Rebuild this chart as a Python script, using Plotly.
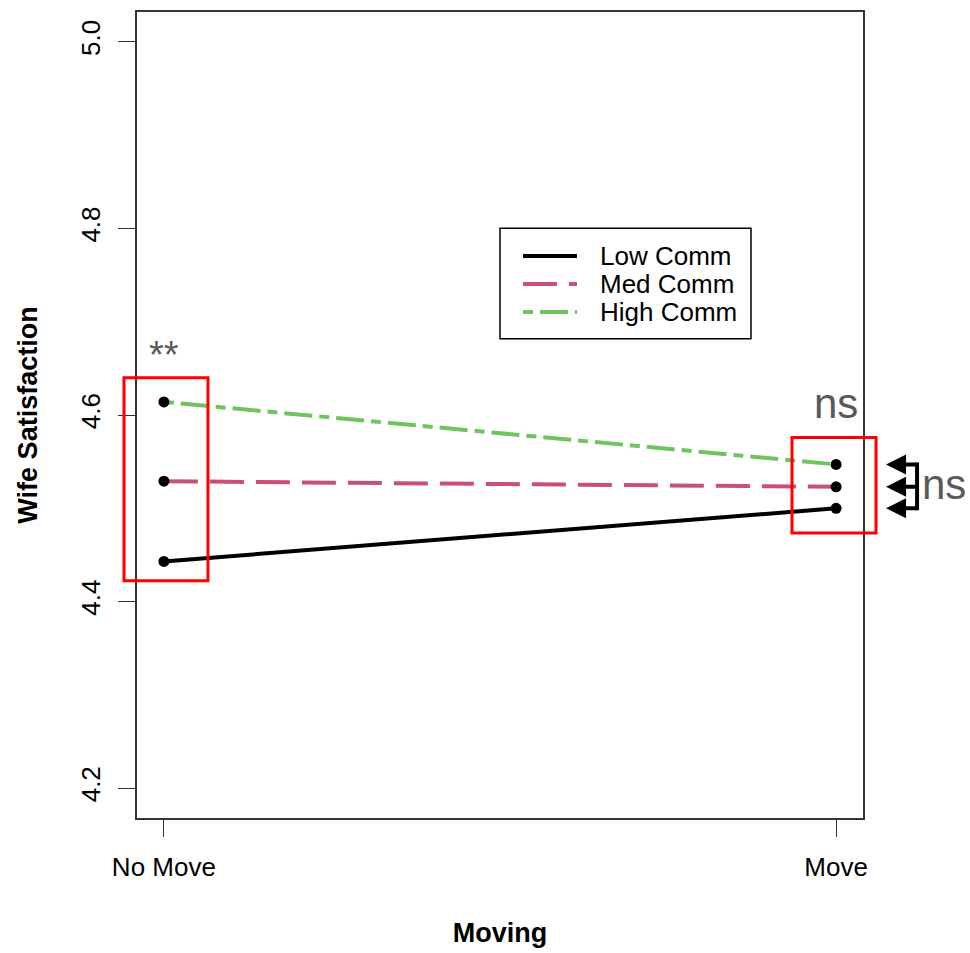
import plotly.graph_objects as go

# Interaction of moving status and communication level on wife satisfaction
moving = ["No Move", "Move"]
x_pos = [1, 2]
series_names = ["Low Comm", "Med Comm", "High Comm"]
low_comm = [4.443, 4.500]
med_comm = [4.529, 4.523]
high_comm = [4.614, 4.547]
y_ticks = [4.2, 4.4, 4.6, 4.8, 5.0]

series_values = [low_comm, med_comm, high_comm]
colors = ["#000000", "#C94F78", "#70C45E"]
dashes = ["solid", "34px,12px", "10px,7px,28px,7px"]

XR = [0.96, 2.04]
YR = [4.168, 5.032]
FONT = "Liberation Sans, Arial, sans-serif"


def xp(v):
    return (v - XR[0]) / (XR[1] - XR[0])


def yp(v):
    return (v - YR[0]) / (YR[1] - YR[0])


fig = go.Figure()
for name, vals, col, dash in zip(series_names, series_values, colors, dashes):
    fig.add_trace(go.Scatter(
        x=x_pos, y=vals, name=name, mode="lines+markers",
        line=dict(color=col, width=4, dash=dash),
        marker=dict(color="black", size=11),
        showlegend=False, cliponaxis=False,
    ))

shapes = []
# red highlight boxes around each group of means
for (x0, x1, y0, y1) in [(0.9407, 1.0656, 4.4222, 4.640),
                         (1.9344, 2.0594, 4.4734, 4.576)]:
    shapes.append(dict(type="rect", xref="paper", yref="paper",
                       x0=xp(x0), x1=xp(x1), y0=yp(y0), y1=yp(y1),
                       line=dict(color="#FF0000", width=3)))

# bracket joining the comparison arrows
move_vals = [v[1] for v in series_values]
shapes.append(dict(type="line", xref="paper", yref="paper",
                   x0=xp(2.1204), x1=xp(2.1204),
                   y0=yp(min(move_vals)) - 0.0025, y1=yp(max(move_vals)) + 0.0025,
                   line=dict(color="black", width=4)))

# legend box
lg_x0, lg_x1, lg_y0, lg_y1 = 0.5, 0.8457, 0.5946, 0.7318
shapes.append(dict(type="rect", xref="paper", yref="paper",
                   x0=lg_x0, x1=lg_x1, y0=lg_y0, y1=lg_y1,
                   line=dict(color="black", width=1.5)))
annotations = []
row_y = [0.6972, 0.6625, 0.6279]
for name, col, dash, ry in zip(series_names, colors, dashes, row_y):
    shapes.append(dict(type="line", xref="paper", yref="paper",
                       x0=0.5317, x1=0.6061, y0=ry, y1=ry,
                       line=dict(color=col, width=4, dash=dash)))
    annotations.append(dict(xref="paper", yref="paper", x=0.635, y=ry,
                            text=name, showarrow=False, xanchor="left",
                            yanchor="middle",
                            font=dict(family=FONT, size=26, color="black")))

gray = "#595959"
annotations.append(dict(xref="paper", yref="paper", x=xp(1.0), y=yp(4.664),
                        text="**", showarrow=False, xanchor="center", yanchor="middle",
                        font=dict(family=FONT, size=38, color=gray)))
annotations.append(dict(xref="paper", yref="paper", x=xp(2.0), y=yp(4.612),
                        text="ns", showarrow=False, xanchor="center", yanchor="middle",
                        font=dict(family=FONT, size=42, color=gray)))
annotations.append(dict(xref="paper", yref="paper", x=xp(2.1605), y=yp(4.526),
                        text="ns", showarrow=False, xanchor="center", yanchor="middle",
                        font=dict(family=FONT, size=42, color=gray)))
for v in move_vals:
    annotations.append(dict(xref="paper", yref="paper", x=xp(2.0743), y=yp(v),
                            text="", showarrow=True,
                            ax=31, ay=0, arrowhead=2, arrowsize=1.0,
                            arrowwidth=4, arrowcolor="black"))

fig.update_layout(
    width=970, height=953,
    margin=dict(l=137, r=107, t=10, b=134),
    paper_bgcolor="white", plot_bgcolor="white",
    shapes=shapes, annotations=annotations,
    xaxis=dict(range=XR, tickvals=x_pos, ticktext=moving,
               showgrid=False, zeroline=False,
               showline=True, mirror=True, linecolor="#333", linewidth=1.5,
               ticks="outside", ticklen=17, tickcolor="#333", tickwidth=1.2,
               ticklabelstandoff=8,
               tickfont=dict(family=FONT, size=26, color="black"),
               title=dict(text="<b>Moving</b>", standoff=42,
                          font=dict(family=FONT, size=27, color="black"))),
    yaxis=dict(range=YR, tickvals=y_ticks, tickformat=".1f",
               showgrid=False, zeroline=False,
               showline=True, mirror=True, linecolor="#333", linewidth=1.5,
               ticks="outside", ticklen=17, tickcolor="#333", tickwidth=1.2,
               tickangle=-90, ticklabelstandoff=8,
               tickfont=dict(family=FONT, size=26, color="black"),
               title=dict(text="<b>Wife Satisfaction</b>", standoff=30,
                          font=dict(family=FONT, size=27, color="black"))),
)

fig.write_html("out.html")
